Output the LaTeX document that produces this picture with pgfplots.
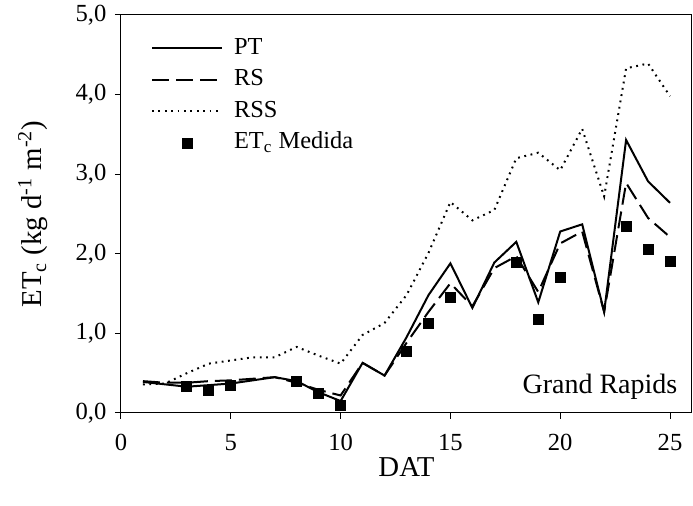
\documentclass[border=0pt]{standalone}
\usepackage{fontspec}
\setmainfont{Liberation Serif}
\usepackage{pgfplots}
\pgfplotsset{compat=1.18}
\pgfplotstableread{
x PT RS RSS
1 0.39 0.40 0.36
2 0.36 0.38 0.37
3 0.33 0.38 0.50
4 0.35 0.40 0.62
5 0.37 0.41 0.66
6 0.41 0.43 0.70
7 0.45 0.45 0.70
8 0.40 0.38 0.83
9 0.26 0.29 0.72
10 0.15 0.22 0.62
11 0.63 0.63 0.98
12 0.47 0.47 1.13
13 0.95 0.88 1.48
14 1.48 1.27 2.01
15 1.88 1.63 2.65
16 1.32 1.34 2.42
17 1.89 1.82 2.55
18 2.15 1.97 3.20
19 1.39 1.52 3.27
20 2.28 2.13 3.05
21 2.37 2.28 3.57
22 1.27 1.27 2.72
23 3.43 2.89 4.33
24 2.91 2.45 4.39
25 2.64 2.21 3.98
}\simdata
\pgfplotstableread{
x ET
3 0.34
4 0.29
5 0.35
8 0.40
9 0.25
10 0.10
13 0.77
14 1.13
15 1.45
18 1.89
19 1.18
20 1.70
23 2.34
24 2.05
25 1.91
}\measdata
\begin{document}
\fontsize{12.3pt}{14.5pt}\selectfont
\begin{tikzpicture}
\useasboundingbox (-60.5pt,-46.5pt) rectangle (286pt,206.5pt);
\begin{axis}[
  at={(0,0)}, anchor=south west,
  scale only axis, width=285.5pt, height=199pt,
  xmin=0, xmax=26, ymin=0, ymax=5,
  xtick={0,5,...,25}, ytick={0,1,...,5},
  tick align=outside, major tick length=3pt, minor tick num=0,
  tick pos=left,
  axis line style={line width=0.5pt},
  tick style={line width=0.5pt, black},
  /pgf/number format/assume math mode=true,
  scaled ticks=false,
  y tick label style={/pgf/number format/fixed, /pgf/number format/fixed zerofill, /pgf/number format/precision=1, /pgf/number format/use comma},
  x tick label style={yshift=-3.5pt},
  xlabel={DAT},
  ylabel={ET\textsubscript{c} (kg d\textsuperscript{-1} m\textsuperscript{-2})},
  every axis x label/.style={at={([yshift=-27pt]axis description cs:0.5,0)}, anchor=center, font=\fontsize{14.4pt}{17pt}\selectfont},
  every axis y label/.style={at={([xshift=-44pt]axis description cs:0,0.5)}, anchor=center, rotate=90, font=\fontsize{14.4pt}{17pt}\selectfont},
  legend style={at={(rel axis cs:0.052,0.952)}, anchor=north west, draw=none, fill=none, row sep=1.75pt, column sep=4.5pt, inner sep=0pt,
    nodes={inner sep=1pt, text height=9pt, text depth=3pt}, font=\fontsize{12.2pt}{14pt}\selectfont},
  legend cell align=left,
  legend image code/.code={\draw[mark repeat=2,mark phase=2,#1] plot coordinates {(0pt,0pt) (17.5pt,0pt) (35pt,0pt)};},
]
\addplot[black, line width=1pt, mark=none] table[x=x,y=PT] {\simdata};
\addlegendentry{PT}
\addplot[black, line width=1pt, mark=none, dash pattern=on 8.5pt off 3.5pt] table[x=x,y=RS] {\simdata};
\addlegendentry{RS}
\addplot[black, line width=1pt, mark=none, dash pattern=on 0.9pt off 2.3pt] table[x=x,y=RSS] {\simdata};
\addlegendentry{RSS}
\addplot[black, only marks, mark=square*, mark size=2.5pt] table[x=x,y=ET] {\measdata};
\addlegendentry{ET\textsubscript{c} Medida}
\node[anchor=base east, inner sep=0pt, font=\fontsize{14pt}{16pt}\selectfont] at (rel axis cs:0.975,0.05) {Grand Rapids};
\end{axis}
\end{tikzpicture}
\end{document}
